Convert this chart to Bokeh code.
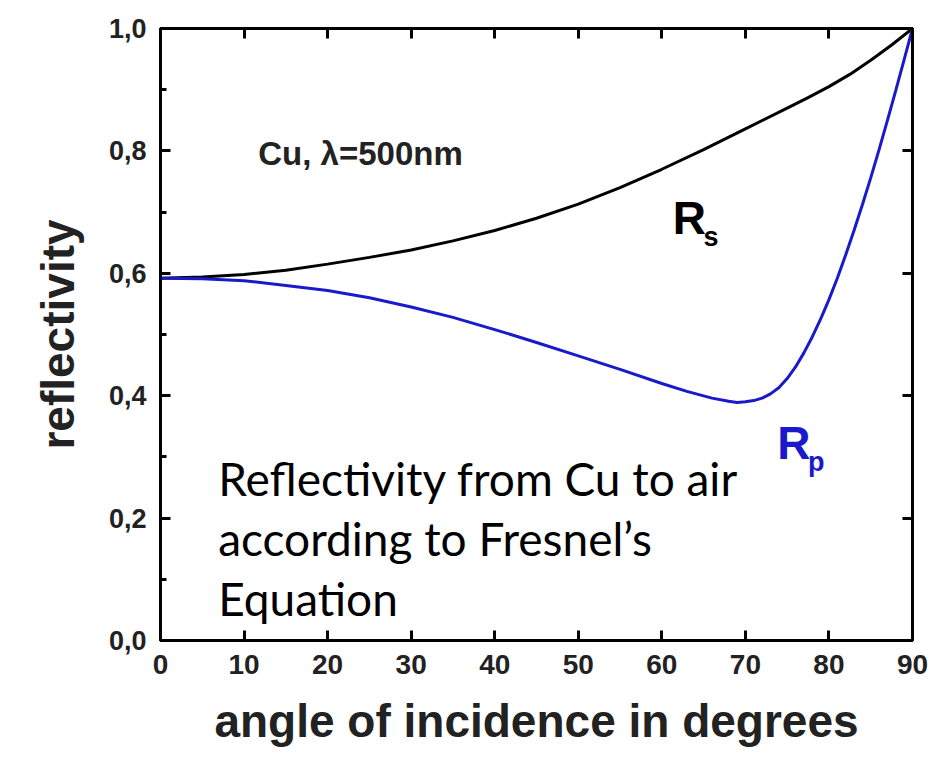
from bokeh.plotting import figure
from bokeh.models import LinearAxis, Label, CustomJSTickFormatter, FixedTicker, Range1d
from bokeh.embed import file_html
from bokeh.resources import INLINE

# ---- data ----
angle_s = [0, 5, 10, 15, 20, 25, 30, 35, 40, 45, 50, 55, 60, 65, 70, 75, 77.5, 80,
           82.5, 85, 87.5, 90]
r_s = [0.592, 0.594, 0.598, 0.605, 0.615, 0.626, 0.638, 0.653, 0.670, 0.690, 0.713,
       0.740, 0.770, 0.802, 0.836, 0.870, 0.887, 0.905, 0.925, 0.948, 0.973, 1.0]
angle_p = [0, 5, 10, 15, 20, 25, 30, 35, 40, 45, 50, 55, 60, 63, 66, 68, 69, 70, 71,
           72, 73, 74, 75, 76, 77, 78, 79, 80, 81, 82, 83, 84, 85, 86, 87, 88, 89, 90]
r_p = [0.592, 0.591, 0.588, 0.580, 0.572, 0.560, 0.545, 0.528, 0.508, 0.487, 0.465,
       0.443, 0.420, 0.407, 0.396, 0.391, 0.389, 0.390, 0.392, 0.396, 0.403, 0.413,
       0.428, 0.447, 0.470, 0.496, 0.525, 0.557, 0.592, 0.630, 0.670, 0.712, 0.756,
       0.802, 0.850, 0.899, 0.949, 1.0]
x_ticks = [0, 10, 20, 30, 40, 50, 60, 70, 80, 90]
y_ticks = [0.0, 0.2, 0.4, 0.6, 0.8, 1.0]
y_minor = [0.1, 0.3, 0.5, 0.7, 0.9]

BOLD = "Liberation Sans"
BLUE = "#1a1acc"
DARK = "#222222"

p = figure(width=943, height=757, x_range=Range1d(0, 90), y_range=Range1d(0, 1),
           output_backend="svg", toolbar_location=None,
           min_border_left=160, min_border_right=31, min_border_top=28,
           min_border_bottom=117)
p.grid.visible = False
p.outline_line_color = "black"
p.outline_line_width = 3

# bottom axis
xa = p.xaxis[0]
xa.ticker = FixedTicker(ticks=x_ticks)
xa.major_tick_in = 10
xa.major_tick_out = 0
xa.minor_tick_line_color = None
xa.axis_line_width = 3
xa.major_tick_line_width = 3
xa.major_label_text_font = BOLD
xa.major_label_text_font_style = "bold"
xa.major_label_text_font_size = "28px"
xa.major_label_text_color = DARK
xa.major_label_standoff = 14
xa.axis_label = "angle of incidence in degrees"
xa.axis_label_text_font = BOLD
xa.axis_label_text_font_style = "bold"
xa.axis_label_text_font_size = "46px"
xa.axis_label_text_color = DARK
xa.axis_label_standoff = 18

# left axis
ya = p.yaxis[0]
ya.ticker = FixedTicker(ticks=y_ticks, minor_ticks=y_minor)
ya.formatter = CustomJSTickFormatter(code="return tick.toFixed(1).replace('.', ',');")
ya.major_tick_in = 10
ya.major_tick_out = 0
ya.minor_tick_in = 6
ya.minor_tick_out = 0
ya.axis_line_width = 3
ya.major_tick_line_width = 3
ya.minor_tick_line_width = 3
ya.major_label_text_font = BOLD
ya.major_label_text_font_style = "bold"
ya.major_label_text_font_size = "27px"
ya.major_label_text_color = DARK
ya.major_label_standoff = 14
ya.axis_label = "reflectivity"
ya.axis_label_text_font = BOLD
ya.axis_label_text_font_style = "bold"
ya.axis_label_text_font_size = "46px"
ya.axis_label_text_color = DARK
ya.axis_label_standoff = 22

# top and right axes: inward ticks, no labels
blank = CustomJSTickFormatter(code="return '';")
top = LinearAxis(ticker=FixedTicker(ticks=x_ticks), formatter=blank,
                 major_tick_in=10, major_tick_out=0,
                 minor_tick_line_color=None, axis_line_width=3, major_tick_line_width=3,
                 major_label_standoff=0)
p.add_layout(top, "above")
right = LinearAxis(ticker=FixedTicker(ticks=y_ticks), formatter=blank,
                   major_tick_in=10, major_tick_out=0,
                   minor_tick_line_color=None, axis_line_width=3, major_tick_line_width=3,
                   major_label_standoff=0)
p.add_layout(right, "right")

# curves
p.line(angle_s, r_s, line_color="black", line_width=3)
p.line(angle_p, r_p, line_color=BLUE, line_width=3)

# annotations
p.add_layout(Label(x=11.7, y=0.796, text="Cu, λ=500nm", text_font=BOLD,
                   text_font_style="bold", text_font_size="33px", text_color=DARK,
                   text_baseline="alphabetic"))
p.add_layout(Label(x=61.3, y=0.69, text="R", text_font=BOLD, text_font_style="bold",
                   text_font_size="46px", text_color="black", text_baseline="alphabetic"))
p.add_layout(Label(x=65.0, y=0.66, text="s", text_font=BOLD, text_font_style="bold",
                   text_font_size="27px", text_color="black", text_baseline="alphabetic"))
p.add_layout(Label(x=73.8, y=0.322, text="R", text_font=BOLD, text_font_style="bold",
                   text_font_size="46px", text_color=BLUE, text_baseline="alphabetic"))
p.add_layout(Label(x=77.5, y=0.292, text="p", text_font=BOLD, text_font_style="bold",
                   text_font_size="27px", text_color=BLUE, text_baseline="alphabetic"))

note_lines = ["Reflectivity from Cu to air", "according to Fresnel’s", "Equation"]
note_y = [0.265, 0.167, 0.069]
for t, yy in zip(note_lines, note_y):
    p.add_layout(Label(x=6.9, y=yy, text=t, text_font="Lato", text_font_size="46px",
                       text_color="black", text_baseline="alphabetic"))

open("out.html", "w").write(file_html(p, INLINE))
